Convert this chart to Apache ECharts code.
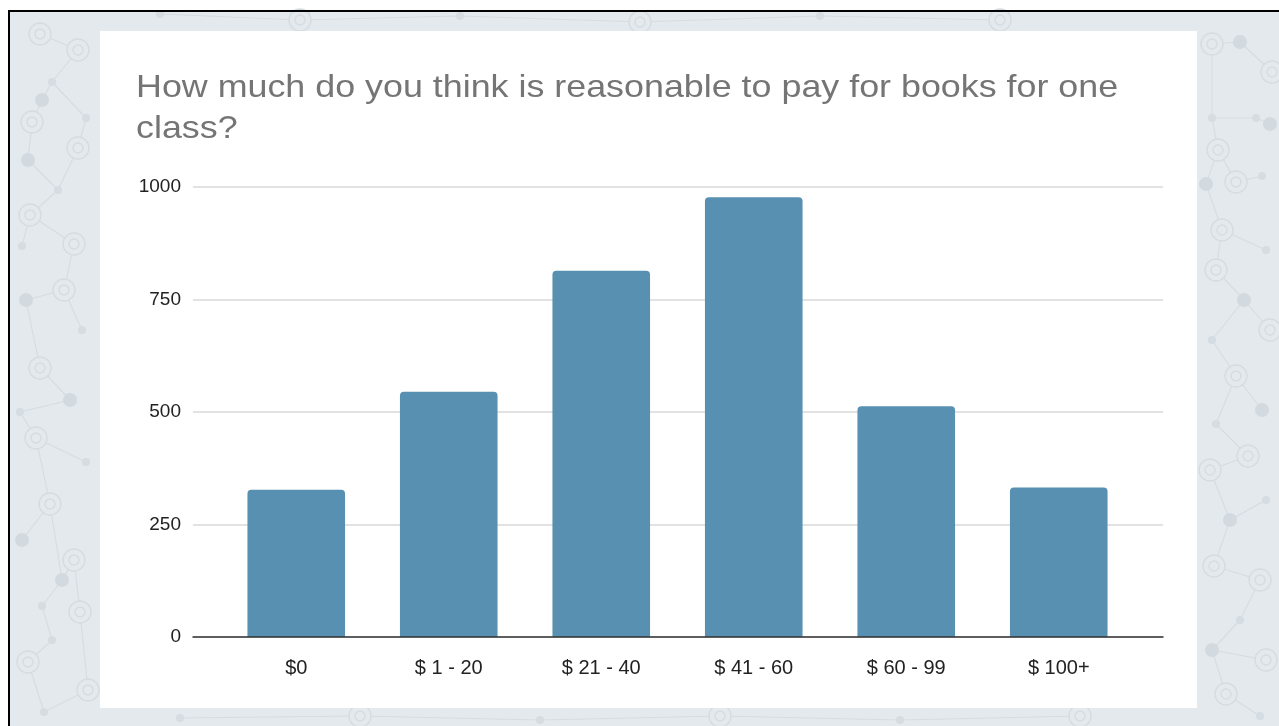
<!DOCTYPE html>
<html>
<head>
<meta charset="utf-8">
<style>
  html, body { margin: 0; padding: 0; background: #ffffff; }
  #chart { width: 1279px; height: 726px; }
</style>
<script src="https://cdn.jsdelivr.net/npm/echarts@6/dist/echarts.min.js"></script>
</head>
<body>
<div id="chart"></div>
<script>
// Survey answers: price ranges and number of respondents
const categories = ['$0', '$ 1 - 20', '$ 21 - 40', '$ 41 - 60', '$ 60 - 99', '$ 100+'];
const responses = [327, 545, 814, 977, 513, 332];
const yTicks = [0, 250, 500, 750, 1000];
const chartTitle = 'How much do you think is reasonable to pay for books for one\nclass?';

// Decorative network backdrop: nodes [x, y, kind] and links between node indices
const netNodes = [
  [40, 34, 'ring'], [42, 100, 'dot'], [78, 50, 'ring'], [52, 82, 'small'], [86, 118, 'small'],
  [32, 122, 'ring'], [78, 148, 'ring'], [28, 160, 'dot'], [58, 190, 'small'], [30, 215, 'ring'],
  [74, 244, 'ring'], [22, 246, 'small'], [64, 290, 'ring'], [26, 300, 'dot'], [82, 330, 'small'],
  [40, 368, 'ring'], [70, 400, 'dot'], [20, 412, 'small'], [36, 438, 'ring'], [86, 462, 'small'],
  [50, 504, 'ring'], [22, 540, 'dot'], [74, 560, 'ring'], [42, 606, 'small'], [62, 580, 'dot'],
  [80, 612, 'ring'], [52, 640, 'small'], [28, 662, 'ring'], [88, 690, 'ring'], [44, 712, 'small'],
  [1212, 44, 'ring'], [1240, 42, 'dot'], [1272, 72, 'ring'], [1212, 118, 'small'], [1256, 118, 'small'],
  [1218, 150, 'ring'], [1270, 124, 'dot'], [1236, 182, 'ring'], [1262, 176, 'small'], [1206, 184, 'dot'],
  [1222, 230, 'ring'], [1266, 250, 'small'], [1216, 270, 'ring'], [1244, 300, 'dot'], [1270, 330, 'ring'],
  [1212, 340, 'small'], [1236, 376, 'ring'], [1262, 410, 'dot'], [1216, 424, 'small'], [1248, 456, 'ring'],
  [1210, 470, 'ring'], [1266, 500, 'small'], [1230, 520, 'dot'], [1214, 566, 'ring'], [1260, 580, 'ring'],
  [1240, 620, 'small'], [1212, 650, 'dot'], [1266, 660, 'ring'], [1226, 694, 'ring'], [1260, 716, 'small'],
  [160, 14, 'small'], [300, 20, 'ring'], [460, 16, 'small'], [640, 22, 'ring'], [820, 16, 'small'], [1000, 20, 'ring'],
  [180, 718, 'small'], [360, 716, 'ring'], [540, 720, 'small'], [720, 716, 'ring'], [900, 720, 'small'], [1080, 716, 'ring']
];
const netLinks = [
  [0, 2], [2, 3], [3, 1], [1, 5], [3, 4], [4, 6], [6, 8], [5, 7], [7, 8], [8, 9], [9, 11], [9, 10],
  [10, 12], [12, 13], [12, 14], [13, 15], [15, 16], [16, 17], [17, 18], [18, 19], [18, 20], [20, 21],
  [20, 24], [24, 22], [22, 25], [24, 23], [23, 26], [26, 27], [27, 29], [28, 29], [25, 28],
  [30, 31], [31, 32], [30, 33], [33, 34], [34, 36], [33, 35], [35, 37], [37, 38], [35, 39], [39, 40],
  [40, 41], [40, 42], [42, 43], [43, 44], [43, 45], [45, 46], [46, 47], [46, 48], [48, 49], [49, 50],
  [50, 52], [52, 51], [52, 53], [53, 54], [54, 55], [55, 56], [56, 57], [56, 58], [58, 59],
  [60, 61], [61, 62], [62, 63], [63, 64], [64, 65], [66, 67], [67, 68], [68, 69], [69, 70], [70, 71]
];

const netColor = '#d5dce2';
const backdrop = [];
backdrop.push({
  type: 'rect', z: -10, silent: true,
  shape: { x: 9, y: 11, width: 1270, height: 715 },
  style: { fill: '#e4e9ed' }
});
netLinks.forEach(([a, b]) => {
  backdrop.push({
    type: 'line', z: -9, silent: true,
    shape: { x1: netNodes[a][0], y1: netNodes[a][1], x2: netNodes[b][0], y2: netNodes[b][1] },
    style: { stroke: netColor, lineWidth: 1.1 }
  });
});
netNodes.forEach(([x, y, kind]) => {
  if (kind === 'ring') {
    backdrop.push({ type: 'circle', z: -8, silent: true, shape: { cx: x, cy: y, r: 11 },
      style: { fill: '#e4e9ed', stroke: netColor, lineWidth: 1.4 } });
    backdrop.push({ type: 'circle', z: -8, silent: true, shape: { cx: x, cy: y, r: 5 },
      style: { fill: 'none', stroke: netColor, lineWidth: 1.4 } });
  } else if (kind === 'dot') {
    backdrop.push({ type: 'circle', z: -8, silent: true, shape: { cx: x, cy: y, r: 7 },
      style: { fill: '#d2d9df' } });
  } else {
    backdrop.push({ type: 'circle', z: -8, silent: true, shape: { cx: x, cy: y, r: 4 },
      style: { fill: '#d5dce2' } });
  }
});
// Frame lines along the top and left edge
backdrop.push({ type: 'line', z: -7, silent: true,
  shape: { x1: 8, y1: 11, x2: 1279, y2: 11 }, style: { stroke: '#000', lineWidth: 2 } });
backdrop.push({ type: 'line', z: -7, silent: true,
  shape: { x1: 9, y1: 10, x2: 9, y2: 726 }, style: { stroke: '#000', lineWidth: 2 } });
// White chart card
backdrop.push({ type: 'rect', z: -6, silent: true,
  shape: { x: 100, y: 31, width: 1097, height: 677 }, style: { fill: '#ffffff' } });
// Chart heading, drawn slightly wide like the sheet export
backdrop.push({
  type: 'text', z: 20, silent: true,
  x: 136, y: 68, scaleX: 1.12, originX: 0, originY: 0,
  style: {
    text: chartTitle,
    fontFamily: 'Liberation Sans, Arial, sans-serif',
    fontSize: 32,
    lineHeight: 41,
    fill: '#757575'
  }
});

const chart = echarts.init(document.getElementById('chart'), null, { renderer: 'canvas' });
const yMin = yTicks[0];
const yMax = yTicks[yTicks.length - 1];
const yStep = yTicks[1] - yTicks[0];

chart.setOption({
  backgroundColor: 'transparent',
  animation: false,
  graphic: { elements: backdrop },
  grid: [
    { left: 193, right: 116, top: 187, bottom: 89, containLabel: false },
    { left: 220, right: 144, top: 187, bottom: 89, containLabel: false }
  ],
  xAxis: [
    {
      type: 'value', gridIndex: 0, min: 0, max: 1,
      axisLabel: { show: false }, axisTick: { show: false }, splitLine: { show: false },
      axisLine: { show: true, lineStyle: { color: '#333333', width: 1.5 } },
      z: 12
    },
    {
      type: 'category', gridIndex: 1, data: categories,
      axisLine: { show: false }, axisTick: { show: false },
      axisLabel: {
        margin: 21,
        fontFamily: 'Liberation Sans, Arial, sans-serif',
        fontSize: 20,
        color: '#222222'
      },
      z: 10
    }
  ],
  yAxis: [
    {
      type: 'value', gridIndex: 0, min: yMin, max: yMax, interval: yStep,
      axisLine: { show: false }, axisTick: { show: false },
      axisLabel: {
        margin: 12,
        fontFamily: 'Liberation Sans, Arial, sans-serif',
        fontSize: 19,
        color: '#222222',
        formatter: (v) => String(v)
      },
      splitLine: { show: true, lineStyle: { color: '#d9d9d9', width: 1.5 } },
      z: 1
    },
    {
      type: 'value', gridIndex: 1, min: yMin, max: yMax, interval: yStep,
      show: false
    }
  ],
  series: [
    {
      type: 'bar',
      xAxisIndex: 1,
      yAxisIndex: 1,
      data: responses,
      barCategoryGap: '36%',
      itemStyle: { color: '#5790b0', borderRadius: [4, 4, 0, 0] },
      z: 8
    }
  ]
});
</script>
</body>
</html>
